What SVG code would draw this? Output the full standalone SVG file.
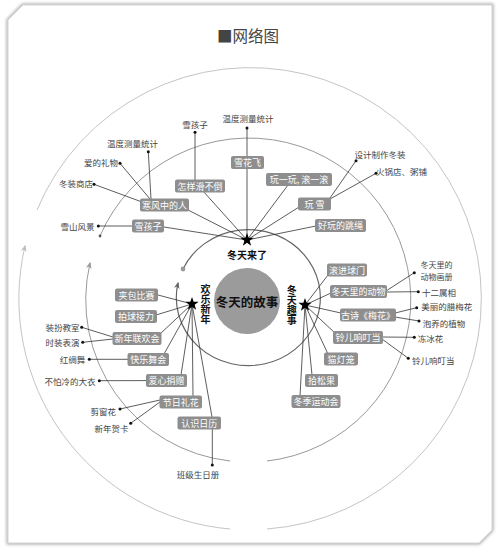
<svg xmlns="http://www.w3.org/2000/svg" width="499" height="551" viewBox="0 0 499 551">
<style>
text{font-family:"Noto Sans CJK SC","Noto Sans",sans-serif}
.bx rect{fill:#8e8e8e}
.bx text{fill:#fff;font-size:9px;text-anchor:middle;dominant-baseline:central}
.leaf text{fill:#444;font-size:8.5px;dominant-baseline:central}
.leaf circle{fill:#111}
#connectors line,#connectors polyline{stroke:#333;stroke-width:0.8;fill:none}
.hub text{fill:#111;font-weight:bold;font-size:10px;text-anchor:middle;dominant-baseline:central}
.vt{writing-mode:vertical-rl;text-orientation:upright}
</style>
<defs>
<filter id="sh" x="-5%" y="-5%" width="110%" height="110%"><feGaussianBlur stdDeviation="1.5"/></filter>
<path id="star" d="M0,-7 L1.646,-2.265 L6.657,-2.163 L2.663,0.865 L4.114,5.663 L0,2.8 L-4.114,5.663 L-2.663,0.865 L-6.657,-2.163 L-1.646,-2.265 Z" fill="#000"/>
<marker id="a1" viewBox="0 0 10 10" refX="8" refY="5" markerWidth="7" markerHeight="7" markerUnits="userSpaceOnUse" orient="auto"><path d="M0,1 L10,5 L0,9 L3,5 Z" fill="#666"/></marker>
<marker id="a2" viewBox="0 0 10 10" refX="8" refY="5" markerWidth="7" markerHeight="7" markerUnits="userSpaceOnUse" orient="auto"><path d="M0,1 L10,5 L0,9 L3,5 Z" fill="#999"/></marker>
<marker id="a3" viewBox="0 0 10 10" refX="8" refY="5" markerWidth="7" markerHeight="7" markerUnits="userSpaceOnUse" orient="auto"><path d="M0,1 L10,5 L0,9 L3,5 Z" fill="#bbb"/></marker>
</defs>
<rect width="499" height="551" fill="#fff"/>
<g id="card">
<polygon points="23,5 492,5 492,530 479,543 8,543 8,20" fill="none" stroke="#aaa" stroke-width="3" filter="url(#sh)"/>
<polygon points="23,5 492,5 492,530 479,543 8,543 8,20" fill="#fff" stroke="#d4d4d4" stroke-width="1"/>
</g>
<text x="248" y="35" font-size="15.5" fill="#444" text-anchor="middle" dominant-baseline="central">■网络图</text>

<g id="rings" fill="none">
<path d="M37,210 A231 231 0 1 1 267,529" stroke="#c4c4c4" stroke-width="1"/>
<path d="M230,529 A231 231 0 0 1 25,246" stroke="#c4c4c4" stroke-width="1" marker-end="url(#a3)"/>
<path d="M100,236 A162 162 0 1 1 267,461" stroke="#999" stroke-width="1"/>
<path d="M230,461 A162 162 0 0 1 90,263" stroke="#999" stroke-width="1" marker-end="url(#a2)"/>
<circle cx="100" cy="236" r="1.4" fill="#555"/>
<path d="M183,269 A72 68 0 1 1 178,283" stroke="#666" stroke-width="1.2" marker-end="url(#a1)"/>
<circle cx="183" cy="269" r="2.4" fill="#999"/>
</g>

<g id="connectors">
<line x1="247" y1="128" x2="247" y2="240"/>
<line x1="247" y1="240" x2="203" y2="191"/>
<line x1="195" y1="132" x2="195" y2="180"/>
<line x1="247" y1="240" x2="188" y2="210"/>
<line x1="151" y1="199" x2="148.3" y2="151.7"/>
<line x1="150" y1="199" x2="120" y2="163.3"/>
<line x1="142" y1="202" x2="94" y2="184.3"/>
<line x1="98.3" y1="226" x2="132" y2="226"/>
<line x1="164" y1="227" x2="247" y2="240"/>
<line x1="247" y1="240" x2="288" y2="185"/>
<line x1="247" y1="240" x2="299" y2="207"/>
<line x1="330" y1="198" x2="356" y2="160.7"/>
<line x1="330" y1="199" x2="376" y2="173.3"/>
<line x1="247" y1="240" x2="316" y2="226"/>
<line x1="305" y1="305" x2="328" y2="275"/>
<line x1="305" y1="305" x2="331" y2="293"/>
<line x1="305" y1="305" x2="341" y2="313"/>
<line x1="305" y1="305" x2="335" y2="333"/>
<line x1="305" y1="305" x2="328" y2="354"/>
<line x1="305" y1="305" x2="312" y2="375"/>
<line x1="305" y1="305" x2="300" y2="396"/>
<line x1="386" y1="291" x2="414.3" y2="272.7"/>
<line x1="386" y1="292" x2="418.3" y2="291.7"/>
<line x1="395" y1="313" x2="416.7" y2="307.7"/>
<line x1="395" y1="317" x2="419" y2="321"/>
<line x1="382" y1="337" x2="414.3" y2="337.3"/>
<line x1="382" y1="339" x2="408.3" y2="358.3"/>
<line x1="192" y1="304" x2="158" y2="295"/>
<line x1="192" y1="304" x2="156" y2="315"/>
<line x1="192" y1="304" x2="160" y2="334"/>
<line x1="192" y1="304" x2="164" y2="354"/>
<line x1="192" y1="304" x2="181" y2="375"/>
<line x1="192" y1="304" x2="193" y2="396"/>
<line x1="192" y1="304" x2="212" y2="417"/>
<line x1="212.3" y1="429" x2="212.3" y2="465"/>
<line x1="113" y1="337" x2="81.7" y2="327.3"/>
<line x1="113" y1="339" x2="82.7" y2="342.3"/>
<line x1="128" y1="359.3" x2="89.3" y2="359.3"/>
<line x1="146" y1="380.6" x2="99.3" y2="380.7"/>
<line x1="160" y1="400" x2="120" y2="409"/>
<line x1="160" y1="402" x2="130.7" y2="423.3"/>
</g>

<g id="center">
<circle cx="247" cy="301" r="33" fill="#9b9b9b"/>
<text x="247" y="301" font-size="12.5" font-weight="bold" fill="#111" text-anchor="middle" dominant-baseline="central">冬天的故事</text>
</g>

<g id="hub-winter-comes" class="hub">
<use href="#star" x="247" y="240"/>
<text x="247" y="254">冬天来了</text>
</g>
<g id="hub-new-year" class="hub">
<use href="#star" x="192" y="304"/>
<text class="vt" x="205.5" y="304">欢乐新年</text>
</g>
<g id="hub-winter-fun" class="hub">
<use href="#star" x="305" y="305"/>
<text class="vt" x="291.7" y="305">冬天趣事</text>
</g>

<g id="n-xuehuafei" class="bx"><rect x="231" y="156" width="33" height="13" rx="2"/><text x="247.5" y="162.5">雪花飞</text></g>
<g id="n-zenyang" class="bx"><rect x="175" y="179.5" width="50" height="13" rx="2"/><text x="200" y="186">怎样滑不倒</text></g>
<g id="n-hanfeng" class="bx"><rect x="140" y="198.5" width="49" height="13" rx="2"/><text x="164.5" y="205">寒风中的人</text></g>
<g id="n-xuehaizi" class="bx"><rect x="132" y="219.5" width="32" height="13" rx="2"/><text x="148" y="226">雪孩子</text></g>
<g id="n-wanyiwan" class="bx"><rect x="266" y="173" width="66" height="13" rx="2"/><text x="299" y="179.5">玩一玩, 滚一滚</text></g>
<g id="n-wanxue" class="bx"><rect x="298" y="197.5" width="33" height="13" rx="2"/><text x="314.5" y="204" xml:space="preserve">玩 雪</text></g>
<g id="n-tiaosheng" class="bx"><rect x="315" y="219" width="51" height="13" rx="2"/><text x="340.5" y="225.5">好玩的跳绳</text></g>

<g id="n-gunjin" class="bx"><rect x="327" y="263.5" width="40" height="13" rx="2"/><text x="347" y="270">滚进球门</text></g>
<g id="n-dongwu" class="bx"><rect x="330" y="285" width="57" height="13" rx="2"/><text x="358.5" y="291.5">冬天里的动物</text></g>
<g id="n-gushi" class="bx"><rect x="340" y="308.5" width="56" height="13" rx="2"/><text x="368" y="315">古诗《梅花》</text></g>
<g id="n-linger" class="bx"><rect x="333" y="331" width="50" height="13" rx="2"/><text x="358" y="337.5">铃儿响叮当</text></g>
<g id="n-maodenglong" class="bx"><rect x="324" y="352.5" width="34" height="13" rx="2"/><text x="341" y="359">猫灯笼</text></g>
<g id="n-shisongguo" class="bx"><rect x="305" y="374" width="33" height="13" rx="2"/><text x="321.5" y="380.5">拾松果</text></g>
<g id="n-yundonghui" class="bx"><rect x="291.5" y="395" width="49" height="13" rx="2"/><text x="316" y="401.5">冬季运动会</text></g>

<g id="n-jiabao" class="bx"><rect x="115" y="288.5" width="43" height="13" rx="2"/><text x="136.5" y="295">夹包比赛</text></g>
<g id="n-paiqiu" class="bx"><rect x="115" y="310" width="42" height="13" rx="2"/><text x="136" y="316.5">拍球接力</text></g>
<g id="n-lianhuan" class="bx"><rect x="112.5" y="332" width="49" height="13" rx="2"/><text x="137" y="338.5">新年联欢会</text></g>
<g id="n-wuhui" class="bx"><rect x="127.5" y="353" width="41.5" height="13" rx="2"/><text x="148.2" y="359.5">快乐舞会</text></g>
<g id="n-juanzeng" class="bx"><rect x="146" y="374" width="41" height="13" rx="2"/><text x="166.5" y="380.5">爱心捐赠</text></g>
<g id="n-lihua" class="bx"><rect x="159.5" y="395.5" width="42.5" height="13" rx="2"/><text x="180.7" y="402">节日礼花</text></g>
<g id="n-rili" class="bx"><rect x="177.5" y="416.5" width="43.5" height="13" rx="2"/><text x="199.2" y="423">认识日历</text></g>

<g id="l-xuehaizi" class="leaf"><circle cx="195" cy="132.3" r="1.5"/><text x="195" y="123.5" text-anchor="middle">雪孩子</text></g>
<g id="l-wendu1" class="leaf"><circle cx="247" cy="128" r="1.5"/><text x="248" y="118" text-anchor="middle">温度测量统计</text></g>
<g id="l-wendu2" class="leaf"><circle cx="148.3" cy="151.7" r="1.5"/><text x="132.5" y="143.3" text-anchor="middle">温度测量统计</text></g>
<g id="l-liwu" class="leaf"><circle cx="120" cy="163.3" r="1.5"/><text x="101" y="161.7" text-anchor="middle">爱的礼物</text></g>
<g id="l-shangdian" class="leaf"><circle cx="94" cy="184.3" r="1.5"/><text x="76" y="183.3" text-anchor="middle">冬装商店</text></g>
<g id="l-xueshan" class="leaf"><circle cx="98.3" cy="226" r="1.5"/><text x="77.5" y="226" text-anchor="middle">雪山风景</text></g>
<g id="l-sheji" class="leaf"><circle cx="356" cy="160.7" r="1.5"/><text x="380" y="154.3" text-anchor="middle">设计制作冬装</text></g>
<g id="l-huoguo" class="leaf"><circle cx="376" cy="173.3" r="1.5"/><text x="401.5" y="171" text-anchor="middle">火锅店、粥铺</text></g>

<g id="l-huace" class="leaf"><circle cx="414.3" cy="272.7" r="1.5"/><text text-anchor="middle" style="font-size:8px"><tspan x="436.5" y="264.3">冬天里的</tspan><tspan x="436.5" y="276.3">动物画册</tspan></text></g>
<g id="l-shuxiang" class="leaf"><circle cx="418.3" cy="291.7" r="1.5"/><text x="439" y="291.7" text-anchor="middle">十二属相</text></g>
<g id="l-lamei" class="leaf"><circle cx="416.7" cy="307.7" r="1.5"/><text x="446.7" y="306" text-anchor="middle">美丽的腊梅花</text></g>
<g id="l-zhiwu" class="leaf"><circle cx="419" cy="321" r="1.5"/><text x="444" y="322.7" text-anchor="middle">泡养的植物</text></g>
<g id="l-bingh" class="leaf"><circle cx="414.3" cy="337.3" r="1.5"/><text x="430.5" y="338.3" text-anchor="middle">冻冰花</text></g>
<g id="l-linger" class="leaf"><circle cx="408.3" cy="358.3" r="1.5"/><text x="433.3" y="360" text-anchor="middle">铃儿响叮当</text></g>

<g id="l-jiaoshi" class="leaf"><circle cx="81.7" cy="327.3" r="1.5"/><text x="62.5" y="326.7" text-anchor="middle">装扮教室</text></g>
<g id="l-shizhuang" class="leaf"><circle cx="82.7" cy="342.3" r="1.5"/><text x="62.5" y="342.3" text-anchor="middle">时装表演</text></g>
<g id="l-hongchou" class="leaf"><circle cx="89.3" cy="359.3" r="1.5"/><text x="72.5" y="359.3" text-anchor="middle">红绸舞</text></g>
<g id="l-dayi" class="leaf"><circle cx="99.3" cy="380.7" r="1.5"/><text x="70" y="380.7" text-anchor="middle">不怕冷的大衣</text></g>
<g id="l-chuanghua" class="leaf"><circle cx="120" cy="409" r="1.5"/><text x="103.3" y="410.7" text-anchor="middle">剪窗花</text></g>
<g id="l-heka" class="leaf"><circle cx="130.7" cy="423.3" r="1.5"/><text x="111.5" y="428.3" text-anchor="middle">新年贺卡</text></g>
<g id="l-shengri" class="leaf"><circle cx="212.3" cy="465" r="1.5"/><text x="198" y="474" text-anchor="middle">班级生日册</text></g>
</svg>
